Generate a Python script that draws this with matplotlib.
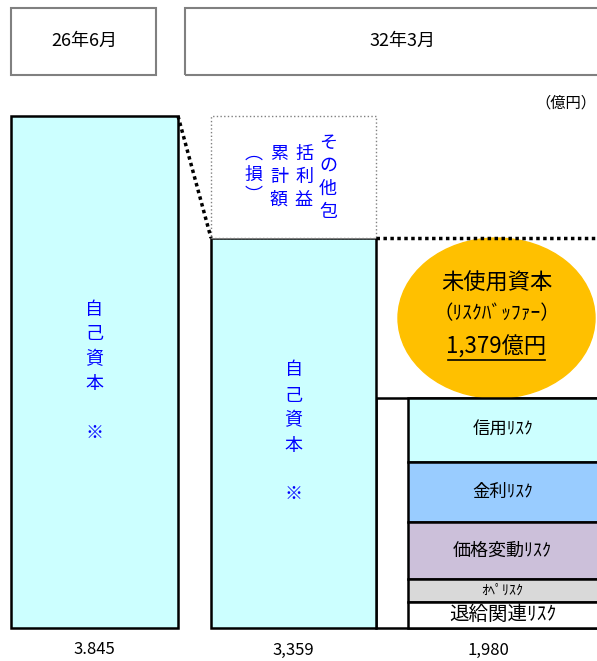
import numpy as np
import matplotlib
matplotlib.use("Agg")
import matplotlib.pyplot as plt
from matplotlib.patches import Ellipse, Rectangle
from matplotlib.lines import Line2D
from matplotlib.transforms import IdentityTransform

plt.rcParams['font.family'] = ['Noto Sans CJK JP', 'DejaVu Sans']

periods = ["26年6月", "32年3月"]
equity = [3845, 3359]                       # 億円
equity_labels = ["3.845", "3,359"]
oci_loss = equity[0] - equity[1]            # その他包括利益累計額（損）
risk_names = ["信用ﾘｽｸ", "金利ﾘｽｸ", "価格変動ﾘｽｸ", "ｵﾍﾟﾘｽｸ", "退給関連ﾘｽｸ"]
risk_values = [551, 518, 493, 192, 226]     # top to bottom
risk_total = sum(risk_values)
unused = equity[1] - risk_total             # 1,379

risk_colors = ["#CCFFFF", "#99CCFF", "#CCC0DA", "#D9D9D9", "white"]
risk_sizes = [12.5, 12.5, 13, 10, 14]

W, H = 597, 661

# linear up to the 32年3月 capital, stretched above it so the oci box fits its text
K1 = 390 / equity[1]
K2 = 122 / oci_loss
B = equity[1]


def fwd(y):
    y = np.asarray(y, float)
    return np.where(y <= B, y * K1, B * K1 + (y - B) * K2)


def inv(p):
    p = np.asarray(p, float)
    return np.where(p <= B * K1, p / K1, B + (p - B * K1) / K2)


fig = plt.figure(figsize=(W / 100, H / 100), dpi=100)
ax = fig.add_axes([0, 0, 1, 1])
ax.set_yscale('function', functions=(fwd, inv))
ax.set_xlim(0, W)
ax.set_ylim(float(inv(-33)), float(inv(628)))
ax.axis('off')

edge = dict(edgecolor='black', linewidth=1.8)
ax.bar(94.5, equity[0], width=167, color='#CCFFFF', zorder=2, **edge)
ax.bar(293.5, equity[1], width=165, color='#CCFFFF', zorder=2, **edge)
ax.bar(293.5, oci_loss, bottom=equity[1], width=165, color='white',
       edgecolor='#808080', linewidth=1, linestyle=':', zorder=2)

# risk area: outer white box and the stacked risks
ax.bar(488, risk_total, width=224, color='white', zorder=1, **edge)
bottoms = risk_total - np.cumsum(risk_values)
ax.bar(504, risk_values, bottom=bottoms, width=192, color=risk_colors, zorder=3, **edge)
for name, v, b, fs in zip(risk_names, risk_values, bottoms, risk_sizes):
    ax.text(502.5, b + v / 2, name, ha='center', va='center', fontsize=fs, zorder=4)

# dotted guide lines
dot = dict(color='black', linestyle=(0, (1, 1)), linewidth=2.5, zorder=5)
ax.plot([178, 211], [equity[0], equity[1]], **dot)
ax.plot([376, W + 5], [equity[1], equity[1]], **dot)

# unused capital ellipse
ell_y = (risk_total + equity[1]) / 2
ax.add_patch(Ellipse((496.5, ell_y), width=197, height=unused, color='#FFC000', zorder=2))
ax.annotate("未使用資本", (496.5, ell_y), xytext=(0, 25), textcoords='offset points',
            ha='center', va='center', fontsize=16, zorder=4)
ax.annotate("（ﾘｽｸﾊﾞｯﾌｧｰ）", (496.5, ell_y), xytext=(0, 3), textcoords='offset points',
            ha='center', va='center', fontsize=14, zorder=4)
amount = ax.annotate(f"{unused:,}億円", (496.5, ell_y), xytext=(0, -21), textcoords='offset points',
                     ha='center', va='center', fontsize=16, zorder=4)


def ptext(x, y, s, **kw):
    # x, y in pixels from the top-left corner
    fig.text(x, H - y, s, transform=IdentityTransform(), **kw)


def column(x, yc, chars, step, **kw):
    n = len(chars)
    for i, ch in enumerate(chars):
        ptext(x, yc + (i - (n - 1) / 2) * step, ch, ha='center', va='center', **kw)


def bar_mid(x, lo, hi):
    # pixel (from top) of the middle between two data heights
    p = ax.transData.transform([[x, lo], [x, hi]])
    return H - p[:, 1].mean()


blue = dict(color='#0000FF', fontsize=13)
for x, lo, hi in [(94.5, 0, equity[0]), (293.5, 0, equity[1])]:
    yc = bar_mid(x, lo, hi)
    column(x, yc - 25, "自己資本", 25, **blue)
    ptext(x, yc + 61, "※", ha='center', va='center', **blue)

yc = bar_mid(293.5, equity[1], equity[0])
column(328, yc, "その他包", 23, **blue)
column(304, yc, "括利益", 23, **blue)
column(279, yc, "累計額", 23, **blue)
column(254, yc - 2, "︵損︶", 21, **blue)

# period headers
for (x0, x1), label, cx in zip([(11, 156), (185, W + 5)], periods, [84, 403]):
    fig.add_artist(Rectangle((x0, H - 75), x1 - x0, 67, transform=IdentityTransform(),
                             fill=False, edgecolor='#808080', linewidth=1.5))
    ptext(cx, 41, label, ha='center', va='center', fontsize=13)
ptext(596, 103, "（億円）", ha='right', va='center', fontsize=11)

for x, s in zip([94.5, 293.5, 488], equity_labels + [f"{risk_total:,}"]):
    ptext(x, 650, s, ha='center', va='center', fontsize=12)

# underline for the unused amount
fig.canvas.draw()
bb = amount.get_window_extent()
fig.add_artist(Line2D([bb.x0 + 2, bb.x1 - 2], [bb.y0 - 1, bb.y0 - 1], transform=IdentityTransform(),
                      color='black', linewidth=1.2, zorder=6))

fig.savefig("out.png", dpi=100)
